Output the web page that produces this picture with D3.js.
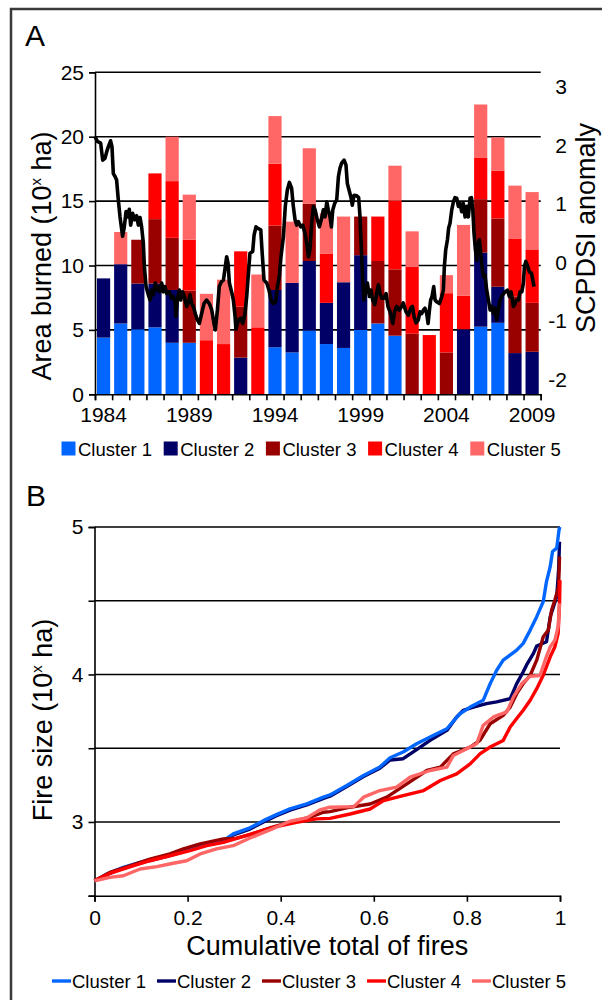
<!DOCTYPE html>
<html>
<head>
<meta charset="utf-8">
<script src="https://cdn.jsdelivr.net/npm/d3@7"></script>
<style>
  body { margin: 0; background: #fff; }
  text { font-family: "Liberation Sans", Arial, sans-serif; fill: #000; }
</style>
</head>
<body>
<svg id="fig" width="602" height="1000"></svg>
<script>
// ---- data -------------------------------------------------------------
var years = d3.range(1984, 2010);
var clusters = ["Cluster 1", "Cluster 2", "Cluster 3", "Cluster 4", "Cluster 5"];
var colors = ["#0066ff", "#000066", "#990000", "#ff0000", "#ff6666"];

// area burned per cluster (10^x ha summed), one value per year
var c1Area = [4.4, 5.5, 5.05, 5.2, 4.0, 4.0, 0, 0, 0, 0, 3.65, 3.25, 4.95, 3.9, 3.6, 5.0, 5.5, 4.55, 0, 0, 0, 0, 5.25, 5.55, 0, 0];
var c2Area = [4.6, 4.6, 3.55, 3.4, 4.1, 0, 0, 0, 2.85, 0, 4.45, 5.4, 5.4, 3.2, 5.1, 5.8, 0, 0, 0, 0, 0, 5.05, 5.75, 2.8, 3.2, 3.3];
var c3Area = [0, 0, 3.4, 5.0, 4.05, 4.05, 0, 0, 3.95, 0, 5.0, 0, 4.45, 0, 0, 3.0, 4.85, 5.15, 4.7, 0, 3.25, 0, 4.15, 5.3, 4.4, 3.8];
var c4Area = [0, 0, 0, 3.55, 4.4, 3.95, 4.2, 3.9, 4.3, 5.2, 4.8, 0, 0, 3.8, 0, 0, 3.45, 5.35, 5.2, 4.6, 4.6, 2.6, 3.2, 3.7, 4.5, 4.15];
var c5Area = [0, 2.5, 0, 0, 3.45, 3.5, 3.6, 5.0, 0, 4.1, 3.7, 4.75, 4.3, 3.15, 5.1, 0, 0, 2.7, 2.75, 0, 1.4, 5.5, 4.15, 2.6, 4.1, 4.45];

var areaTicks = [0, 5, 10, 15, 20, 25];
var scpdsiTicks = [-2, -1, 0, 1, 2, 3];
var yearLabels = [1984, 1989, 1994, 1999, 2004, 2009];

// SCPDSI anomaly: [decimal year, value]
var scpdsi = [[1984.00,2.15],[1984.14,2.07],[1984.33,2.04],[1984.45,1.75],[1984.58,1.78],[1984.68,1.89],[1984.78,1.98],[1984.91,2.08],[1984.99,1.98],[1985.07,1.52],[1985.17,1.47],[1985.26,1.41],[1985.36,1.07],[1985.46,0.78],[1985.56,0.56],[1985.61,0.45],[1985.71,0.61],[1985.81,0.87],[1985.91,0.78],[1986.00,0.91],[1986.08,0.64],[1986.20,0.84],[1986.31,0.73],[1986.43,0.80],[1986.53,0.64],[1986.63,0.77],[1986.72,0.61],[1986.82,0.33],[1986.88,-0.07],[1986.98,-0.41],[1987.11,-0.55],[1987.21,-0.64],[1987.31,-0.47],[1987.40,-0.55],[1987.52,-0.35],[1987.60,-0.47],[1987.69,-0.41],[1987.79,-0.50],[1987.89,-0.35],[1987.99,-0.50],[1988.08,-0.41],[1988.18,-0.53],[1988.34,-0.50],[1988.47,-0.61],[1988.57,-0.58],[1988.67,-0.67],[1988.72,-0.92],[1988.80,-0.64],[1988.92,-0.47],[1989.00,-0.64],[1989.11,-0.50],[1989.21,-0.58],[1989.35,-0.75],[1989.45,-0.67],[1989.54,-0.55],[1989.64,-0.70],[1989.74,-0.75],[1989.85,-0.87],[1989.97,-0.98],[1990.09,-1.04],[1990.22,-0.87],[1990.36,-0.70],[1990.51,-0.64],[1990.67,-0.70],[1990.81,-0.81],[1990.94,-1.04],[1991.02,-1.15],[1991.14,-0.81],[1991.25,-0.41],[1991.37,-0.33],[1991.49,-0.30],[1991.60,-0.07],[1991.68,0.10],[1991.76,-0.01],[1991.84,-0.35],[1991.97,-0.50],[1992.07,-0.64],[1992.17,-0.92],[1992.22,-1.14],[1992.36,-0.98],[1992.50,-0.95],[1992.62,-1.04],[1992.75,-0.87],[1992.85,-0.58],[1992.95,-0.18],[1993.04,0.16],[1993.20,0.19],[1993.28,0.47],[1993.39,0.61],[1993.53,0.58],[1993.67,0.56],[1993.74,0.22],[1993.86,-0.30],[1994.02,-0.35],[1994.15,-0.47],[1994.27,-0.64],[1994.40,-0.70],[1994.54,-0.67],[1994.64,-0.41],[1994.75,-0.24],[1994.85,0.10],[1994.99,0.44],[1995.10,0.96],[1995.22,1.24],[1995.34,1.37],[1995.47,1.27],[1995.57,0.96],[1995.67,0.73],[1995.77,0.64],[1995.86,0.70],[1996.00,0.61],[1996.12,0.64],[1996.25,0.50],[1996.35,0.33],[1996.45,0.10],[1996.54,0.22],[1996.64,0.67],[1996.74,0.96],[1996.84,0.90],[1996.97,0.73],[1997.09,0.61],[1997.20,0.73],[1997.32,0.90],[1997.42,0.78],[1997.52,1.04],[1997.61,0.90],[1997.71,0.78],[1997.79,0.61],[1997.87,0.90],[1997.98,1.01],[1998.10,1.07],[1998.20,1.47],[1998.29,1.61],[1998.39,1.70],[1998.53,1.75],[1998.64,1.67],[1998.72,1.35],[1998.82,1.24],[1998.92,1.13],[1999.01,0.98],[1999.11,1.15],[1999.27,1.14],[1999.38,1.11],[1999.46,0.78],[1999.54,0.22],[1999.62,-0.30],[1999.69,-0.64],[1999.81,-0.47],[1999.89,-0.35],[2000.01,-0.58],[2000.10,-0.47],[2000.20,-0.64],[2000.32,-0.72],[2000.43,-0.53],[2000.53,-0.38],[2000.63,-0.53],[2000.74,-0.61],[2000.86,-0.61],[2000.98,-0.53],[2001.09,-0.75],[2001.21,-0.84],[2001.37,-1.04],[2001.48,-0.84],[2001.60,-0.75],[2001.75,-0.81],[2001.89,-0.75],[2001.98,-0.69],[2002.14,-0.84],[2002.28,-0.90],[2002.42,-0.78],[2002.52,-0.75],[2002.61,-0.92],[2002.73,-1.03],[2002.86,-0.98],[2002.96,-0.84],[2003.06,-0.87],[2003.16,-0.81],[2003.25,-0.78],[2003.35,-0.87],[2003.43,-1.04],[2003.51,-0.81],[2003.58,-0.64],[2003.66,-0.58],[2003.76,-0.41],[2003.84,-0.64],[2003.93,-0.67],[2004.09,-0.70],[2004.23,-0.58],[2004.32,-0.47],[2004.38,-0.07],[2004.46,0.22],[2004.56,0.39],[2004.63,0.59],[2004.71,0.67],[2004.81,0.90],[2004.91,1.04],[2005.00,1.11],[2005.10,1.10],[2005.20,0.96],[2005.30,1.01],[2005.39,0.87],[2005.49,1.01],[2005.59,0.78],[2005.69,0.96],[2005.78,0.78],[2005.88,1.10],[2005.96,1.11],[2006.04,0.90],[2006.11,0.50],[2006.19,0.22],[2006.27,0.04],[2006.35,0.33],[2006.42,0.39],[2006.50,0.16],[2006.58,-0.07],[2006.66,-0.24],[2006.75,-0.21],[2006.85,-0.47],[2006.95,-0.64],[2007.05,-0.81],[2007.15,-0.75],[2007.24,-0.87],[2007.34,-0.78],[2007.43,-0.98],[2007.53,-0.81],[2007.63,-0.64],[2007.78,-0.55],[2007.92,-0.50],[2008.06,-0.47],[2008.17,-0.58],[2008.27,-0.50],[2008.41,-0.75],[2008.50,-0.70],[2008.60,-0.64],[2008.70,-0.64],[2008.80,-0.50],[2008.90,-0.50],[2008.99,-0.35],[2009.05,-0.07],[2009.13,0.02],[2009.22,-0.04],[2009.34,-0.16],[2009.46,-0.18],[2009.54,-0.30],[2009.61,-0.41]];

// panel B: cumulative share of fires vs log10 fire size
var c1Fires = [[0,2.60],[0.026,2.646],[0.062,2.692],[0.098,2.726],[0.134,2.755],[0.169,2.783],[0.205,2.817],[0.241,2.851],[0.277,2.873],[0.298,2.919],[0.334,2.96],[0.363,3.009],[0.391,3.05],[0.42,3.089],[0.456,3.123],[0.492,3.168],[0.506,3.183],[0.542,3.247],[0.578,3.315],[0.613,3.372],[0.635,3.435],[0.663,3.474],[0.692,3.53],[0.721,3.576],[0.757,3.632],[0.785,3.734],[0.807,3.779],[0.835,3.825],[0.85,3.938],[0.864,4.029],[0.878,4.097],[0.907,4.165],[0.921,4.211],[0.936,4.301],[0.95,4.392],[0.964,4.494],[0.971,4.63],[0.979,4.732],[0.984,4.834],[0.993,4.857],[0.998,4.982],[1,5.0]];
var c2Fires = [[0,2.60],[0.026,2.642],[0.062,2.688],[0.098,2.722],[0.134,2.75],[0.169,2.779],[0.205,2.813],[0.241,2.846],[0.277,2.868],[0.298,2.912],[0.334,2.952],[0.363,3.0],[0.391,3.042],[0.42,3.08],[0.456,3.115],[0.492,3.16],[0.506,3.175],[0.542,3.24],[0.578,3.308],[0.613,3.365],[0.635,3.42],[0.663,3.429],[0.692,3.49],[0.721,3.553],[0.757,3.621],[0.778,3.712],[0.792,3.757],[0.814,3.779],[0.842,3.802],[0.864,3.814],[0.893,3.836],[0.907,3.938],[0.921,4.018],[0.928,4.063],[0.943,4.143],[0.95,4.193],[0.971,4.222],[0.979,4.392],[0.986,4.46],[0.993,4.528],[0.997,4.71],[0.999,4.9]];
var c3Fires = [[0,2.601],[0.033,2.658],[0.076,2.703],[0.119,2.748],[0.162,2.783],[0.191,2.817],[0.227,2.851],[0.277,2.885],[0.305,2.89],[0.334,2.914],[0.377,2.96],[0.42,2.998],[0.463,3.032],[0.492,3.066],[0.506,3.07],[0.549,3.1],[0.592,3.122],[0.628,3.168],[0.671,3.258],[0.714,3.349],[0.743,3.372],[0.771,3.462],[0.807,3.508],[0.828,3.553],[0.85,3.666],[0.878,3.723],[0.893,3.779],[0.907,3.87],[0.921,3.938],[0.936,3.995],[0.95,4.097],[0.964,4.256],[0.975,4.301],[0.982,4.437],[0.989,4.505],[0.997,4.596],[0.999,4.8]];
var c4Fires = [[0,2.601],[0.033,2.651],[0.076,2.696],[0.119,2.737],[0.162,2.771],[0.205,2.805],[0.241,2.839],[0.277,2.862],[0.313,2.896],[0.348,2.93],[0.391,2.969],[0.434,2.998],[0.477,3.021],[0.506,3.024],[0.549,3.054],[0.592,3.088],[0.621,3.145],[0.663,3.179],[0.707,3.213],[0.743,3.281],[0.778,3.326],[0.807,3.394],[0.828,3.462],[0.85,3.508],[0.878,3.553],[0.893,3.644],[0.907,3.701],[0.921,3.757],[0.936,3.825],[0.95,3.904],[0.964,3.995],[0.979,4.12],[0.989,4.188],[0.996,4.279],[0.999,4.483],[1,4.64]];
var c5Fires = [[0,2.601],[0.033,2.624],[0.062,2.635],[0.098,2.681],[0.134,2.697],[0.169,2.72],[0.198,2.737],[0.227,2.783],[0.262,2.817],[0.298,2.839],[0.334,2.891],[0.377,2.946],[0.42,3.005],[0.456,3.028],[0.484,3.082],[0.506,3.1],[0.557,3.104],[0.578,3.168],[0.613,3.213],[0.649,3.236],[0.678,3.304],[0.721,3.349],[0.757,3.372],[0.771,3.451],[0.807,3.508],[0.821,3.53],[0.835,3.655],[0.857,3.712],[0.886,3.746],[0.9,3.848],[0.918,3.938],[0.936,3.988],[0.957,3.993],[0.968,4.097],[0.979,4.188],[0.989,4.233],[0.996,4.324],[0.999,4.483]];

var sizeTicks = [2.5, 3, 3.5, 4, 4.5, 5];
var shareTicks = [0, 0.2, 0.4, 0.6, 0.8, 1];

// ---- layout -------------------------------------------------------------
var svg = d3.select("#fig");
var tickFont = 21, titleFont = 27, legendFont = 18.5;

svg.append("rect")
  .attr("x", 11).attr("y", 9)
  .attr("width", 700).attr("height", 1200)
  .attr("fill", "none")
  .attr("stroke", "#3a3a3a")
  .attr("stroke-width", 2.5);

function styleAxis(g) {
  g.selectAll("path.domain").attr("stroke", "#000").attr("stroke-width", 1.6);
  g.selectAll(".tick line").attr("stroke", "#000").attr("stroke-width", 1.6);
  g.selectAll("text").style("font-size", tickFont + "px")
    .style("font-family", "'Liberation Sans', Arial, sans-serif").attr("fill", "#000");
}

function rotatedTitle(x, y, main, tail) {
  var t = svg.append("text")
    .attr("transform", "translate(" + x + "," + y + ") rotate(-90)")
    .attr("text-anchor", "middle")
    .style("font-size", titleFont + "px");
  t.append("tspan").text(main);
  if (tail) {
    t.append("tspan").attr("dy", -10).style("font-size", "15px").text("x");
    t.append("tspan").attr("dy", 10).text(tail);
  }
  return t;
}

// ---- panel A -----------------------------------------------------------
var A = { left: 95, right: 540.7, top: 72.3, bottom: 394.3 };

var xBand = d3.scaleBand().domain(years).range([A.left, A.right])
  .paddingInner(0.23).paddingOuter(0.115);
var xTime = d3.scaleLinear().domain([1984, 2010]).range([A.left, A.right]);
var yArea = d3.scaleLinear().domain([0, 25]).range([A.bottom, A.top]);
var yIdx = d3.scaleLinear().domain([-2.25, 3.25]).range([A.bottom, A.top]);

svg.append("text").attr("x", 25).attr("y", 46).style("font-size", "30px").text("A");

// gridlines
svg.append("g").selectAll("line").data(areaTicks.slice(1)).enter().append("line")
  .attr("x1", A.left).attr("x2", A.right)
  .attr("y1", function(d){ return yArea(d); }).attr("y2", function(d){ return yArea(d); })
  .attr("stroke", "#000").attr("stroke-width", 1.6);

// stacked bars
var table = years.map(function(y, i){
  return { year: y, c1: c1Area[i], c2: c2Area[i], c3: c3Area[i], c4: c4Area[i], c5: c5Area[i] };
});
var stack = d3.stack().keys(["c1", "c2", "c3", "c4", "c5"])(table);

svg.append("g").selectAll("g").data(stack).enter().append("g")
  .attr("fill", function(d, i){ return colors[i]; })
  .selectAll("rect").data(function(d){ return d; }).enter().append("rect")
  .attr("x", function(d){ return xBand(d.data.year); })
  .attr("width", xBand.bandwidth())
  .attr("y", function(d){ return yArea(d[1]); })
  .attr("height", function(d){ return yArea(d[0]) - yArea(d[1]); });

// SCPDSI line
svg.append("path").datum(scpdsi)
  .attr("fill", "none").attr("stroke", "#000").attr("stroke-width", 3.6)
  .attr("stroke-linejoin", "round")
  .attr("d", d3.line().x(function(d){ return xTime(d[0]); }).y(function(d){ return yIdx(d[1]); }));

// axes
var axA = svg.append("g").attr("transform", "translate(" + A.left + ",0)")
  .call(d3.axisLeft(yArea).tickValues(areaTicks).tickSize(6).tickPadding(5));
styleAxis(axA);

var axAx = svg.append("g").attr("transform", "translate(0," + A.bottom + ")")
  .call(d3.axisBottom(xTime).tickValues(d3.range(1984, 2011)).tickSize(6).tickFormat(""));
styleAxis(axAx);

svg.append("g").selectAll("text").data(yearLabels).enter().append("text")
  .attr("x", function(d){ return xBand(d) + xBand.bandwidth() / 2; })
  .attr("y", 422)
  .attr("text-anchor", "middle")
  .style("font-size", tickFont + "px")
  .text(function(d){ return d; });

svg.append("g").selectAll("text").data(scpdsiTicks).enter().append("text")
  .attr("x", 567)
  .attr("y", function(d){ return yIdx(d); })
  .attr("dy", "0.35em")
  .attr("text-anchor", "end")
  .style("font-size", tickFont + "px")
  .text(function(d){ return d; });

rotatedTitle(51, 256, "Area burned (10", " ha)");
rotatedTitle(595, 228, "SCPDSI anomaly");

// legend A
var legA = svg.append("g").selectAll("g").data(clusters).enter().append("g")
  .attr("transform", function(d, i){ return "translate(" + (61.5 + i * 102.2) + ",441.5)"; });
legA.append("rect").attr("width", 14).attr("height", 14)
  .attr("fill", function(d, i){ return colors[i]; });
legA.append("text").attr("x", 16.5).attr("y", 14.5)
  .style("font-size", legendFont + "px")
  .text(function(d){ return d; });

// ---- panel B -----------------------------------------------------------
var B = { left: 94.5, right: 560, top: 527, bottom: 895.7 };

var xShare = d3.scaleLinear().domain([0, 1]).range([B.left, B.right]);
var ySize = d3.scaleLinear().domain([2.5, 5]).range([B.bottom, B.top]);

svg.append("text").attr("x", 26).attr("y", 506).style("font-size", "30px").text("B");

svg.append("g").selectAll("line").data(sizeTicks.slice(1)).enter().append("line")
  .attr("x1", B.left).attr("x2", B.right)
  .attr("y1", function(d){ return ySize(d); }).attr("y2", function(d){ return ySize(d); })
  .attr("stroke", "#000").attr("stroke-width", 1.6);

var axB = svg.append("g").attr("transform", "translate(" + B.left + ",0)")
  .call(d3.axisLeft(ySize).tickValues(sizeTicks).tickSize(6).tickPadding(5)
    .tickFormat(function(d){ return d % 1 === 0 ? d : ""; }));
styleAxis(axB);

var axBx = svg.append("g").attr("transform", "translate(0," + B.bottom + ")")
  .call(d3.axisBottom(xShare).tickValues(shareTicks).tickSize(6).tickPadding(8)
    .tickFormat(function(d){ return d === 0 || d === 1 ? d : d.toFixed(1); }));
styleAxis(axBx);

var curves = [
  { data: c2Fires, color: colors[1] },
  { data: c1Fires, color: colors[0] },
  { data: c3Fires, color: colors[2] },
  { data: c4Fires, color: colors[3] },
  { data: c5Fires, color: colors[4] }
];
var lineB = d3.line().x(function(d){ return xShare(d[0]); }).y(function(d){ return ySize(d[1]); });
svg.append("g").selectAll("path").data(curves).enter().append("path")
  .attr("fill", "none")
  .attr("stroke", function(d){ return d.color; })
  .attr("stroke-width", 3.4)
  .attr("stroke-linejoin", "round")
  .attr("d", function(d){ return lineB(d.data); });

rotatedTitle(52, 720, "Fire size (10", " ha)");
svg.append("text").attr("x", (B.left + B.right) / 2).attr("y", 955)
  .attr("text-anchor", "middle").style("font-size", titleFont + "px")
  .text("Cumulative total of fires");

// legend B
var legB = svg.append("g").selectAll("g").data(clusters).enter().append("g")
  .attr("transform", function(d, i){ return "translate(" + (52 + i * 105) + ",981)"; });
legB.append("line").attr("x1", 0).attr("x2", 19)
  .attr("stroke", function(d, i){ return colors[i]; }).attr("stroke-width", 3.4);
legB.append("text").attr("x", 20).attr("y", 7)
  .style("font-size", legendFont + "px")
  .text(function(d){ return d; });
</script>
</body>
</html>
